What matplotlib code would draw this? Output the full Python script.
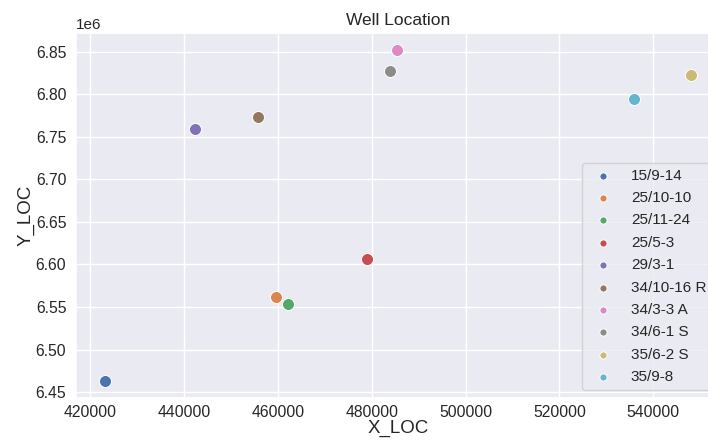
import matplotlib
matplotlib.use("Agg")
import matplotlib.pyplot as plt
import seaborn as sns

# well coordinates
wells = ["15/9-14", "25/10-10", "25/11-24", "25/5-3", "29/3-1",
         "34/10-16 R", "34/3-3 A", "34/6-1 S", "35/6-2 S", "35/9-8"]
x_loc = [423200, 459700, 462100, 478900, 442300,
         455700, 485400, 483800, 548000, 536000]
y_loc = [6462600, 6562000, 6553000, 6605900, 6759300,
         6773700, 6852300, 6827700, 6823000, 6794800]

sns.set_theme(style="darkgrid")
plt.rcParams["font.family"] = ["Liberation Sans", "DejaVu Sans"]

colors = sns.color_palette("deep", len(wells))

fig = plt.figure(figsize=(7.08, 4.41), dpi=100)
# the original image is cropped on the right, so the axes runs past the edge
ax = fig.add_axes([76 / 708, 43 / 441, 644 / 708, 365 / 441])

for well, x, y, c in zip(wells, x_loc, y_loc, colors):
    ax.scatter(x, y, s=75, color=c, edgecolor="white", linewidth=0.7, label=well)

ax.set_title("Well Location", fontsize=12.5)
ax.set_xlabel("X_LOC", fontsize=13.5, labelpad=0)
ax.set_ylabel("Y_LOC", fontsize=13.5, labelpad=1)
ax.tick_params(labelsize=11.3, length=0)
ax.tick_params(axis="x", pad=5)
ax.tick_params(axis="y", pad=7)
ax.legend(loc="lower right", fontsize=11, markerscale=0.6, labelspacing=0.55)

fig.savefig("out.png", dpi=100)
